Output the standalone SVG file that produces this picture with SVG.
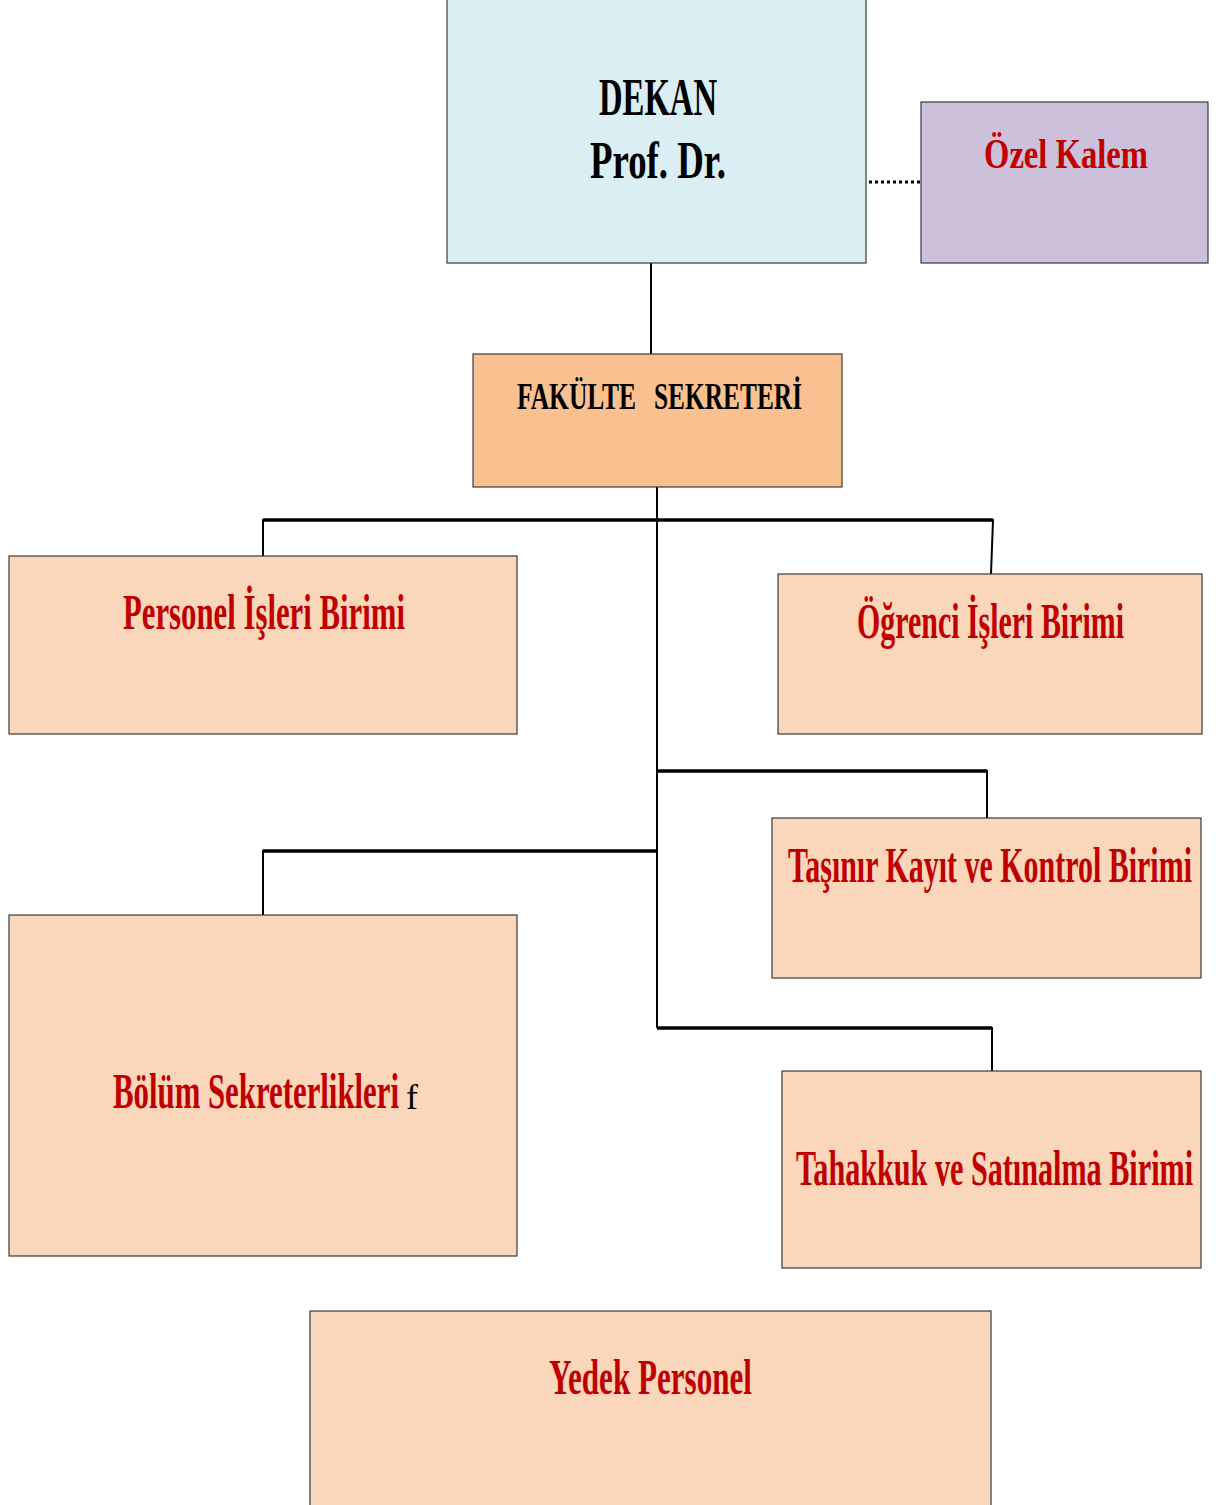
<svg xmlns="http://www.w3.org/2000/svg" width="1216" height="1505" viewBox="0 0 1216 1505">
<style>
.box{stroke:#3a3a3a;stroke-width:1.2}
.unit{fill:#FAD7BB}
.t{font-family:"Liberation Serif","DejaVu Serif",serif;font-weight:bold}
.red{fill:#C00000;font-size:50px}
.blk{fill:#000}
.ln{stroke:#000;fill:none}
</style>
<rect width="1216" height="1505" fill="#fff"/>
<g id="connectors">
<line class="ln" x1="651" y1="263" x2="651" y2="354" stroke-width="2"/>
<line class="ln" x1="869" y1="182" x2="921" y2="182" stroke-width="3.2" stroke-dasharray="3,3"/>
<line class="ln" x1="657" y1="487" x2="657" y2="1028" stroke-width="2"/>
<polyline class="ln" points="263,556 263,520 993,520 991,574" stroke-width="2"/>
<line class="ln" x1="263" y1="520" x2="993" y2="520" stroke-width="3.5"/>
<polyline class="ln" points="656,771 987,771 987,818" stroke-width="2"/>
<line class="ln" x1="656" y1="771" x2="987" y2="771" stroke-width="3.5"/>
<polyline class="ln" points="263,915 263,851 657,851" stroke-width="2"/>
<line class="ln" x1="263" y1="851" x2="657" y2="851" stroke-width="3.5"/>
<polyline class="ln" points="657,1028 992,1028 992,1071" stroke-width="2"/>
<line class="ln" x1="657" y1="1028" x2="992" y2="1028" stroke-width="3.5"/>
</g>
<g id="dekan">
<rect class="box" x="447" y="-1" width="419" height="264" fill="#DAEEF3"/>
<text class="t blk" transform="translate(599,115) scale(0.628,1)" font-size="52" textLength="187.9" lengthAdjust="spacingAndGlyphs">DEKAN</text>
<text class="t blk" transform="translate(590,178) scale(0.688,1)" font-size="52" textLength="197.7" lengthAdjust="spacingAndGlyphs">Prof. Dr.</text>
</g>
<g id="ozel-kalem">
<rect class="box" x="921" y="102" width="287" height="161" fill="#CCC0DA"/>
<text class="t" fill="#C00000" transform="translate(984,168) scale(0.777,1)" font-size="42" textLength="211.1" lengthAdjust="spacingAndGlyphs">Özel Kalem</text>
</g>
<g id="fakulte-sekreteri">
<rect class="box" x="473" y="354" width="369" height="133" fill="#FAC090"/>
<text class="t blk" transform="translate(517,409) scale(0.648,1)" font-size="38" textLength="183.6" lengthAdjust="spacingAndGlyphs">FAKÜLTE</text>
<text class="t blk" transform="translate(654,409) scale(0.667,1)" font-size="38" textLength="221.9" lengthAdjust="spacingAndGlyphs">SEKRETERİ</text>
</g>
<g id="personel">
<rect class="box unit" x="9" y="556" width="508" height="178"/>
<text class="t red" transform="translate(123,629) scale(0.615,1)" textLength="458.5" lengthAdjust="spacingAndGlyphs">Personel İşleri Birimi</text>
</g>
<g id="ogrenci">
<rect class="box unit" x="778" y="574" width="424" height="160"/>
<text class="t red" transform="translate(857,638) scale(0.597,1)" textLength="447.2" lengthAdjust="spacingAndGlyphs">Öğrenci İşleri Birimi</text>
</g>
<g id="tasinir">
<rect class="box unit" x="772" y="818" width="429" height="160"/>
<text class="t red" transform="translate(788,882) scale(0.594,1)" textLength="680.1" lengthAdjust="spacingAndGlyphs">Taşınır Kayıt ve Kontrol Birimi</text>
</g>
<g id="bolum">
<rect class="box unit" x="9" y="915" width="508" height="341"/>
<text class="t red" transform="translate(113,1108) scale(0.616,1)" textLength="464.3" lengthAdjust="spacingAndGlyphs">Bölüm Sekreterlikleri</text>
<text x="406" y="1109" font-family="Liberation Serif, serif" font-size="36" fill="#000">f</text>
</g>
<g id="tahakkuk">
<rect class="box unit" x="782" y="1071" width="419" height="197"/>
<text class="t red" transform="translate(796,1185) scale(0.599,1)" textLength="662.8" lengthAdjust="spacingAndGlyphs">Tahakkuk ve Satınalma Birimi</text>
</g>
<g id="yedek">
<rect class="box unit" x="310" y="1311" width="681" height="200"/>
<text class="t red" transform="translate(549,1394) scale(0.612,1)" textLength="331.7" lengthAdjust="spacingAndGlyphs">Yedek Personel</text>
</g>
</svg>
